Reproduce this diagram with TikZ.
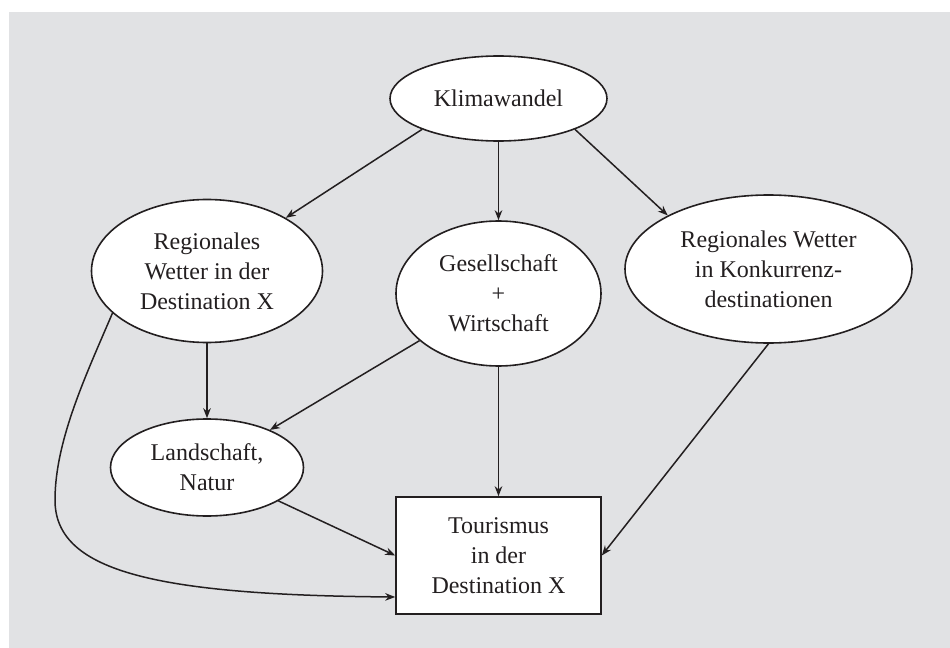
\documentclass[tikz,border=0pt]{standalone}
\usepackage{fontspec}
\setmainfont{Liberation Serif}
\usetikzlibrary{arrows.meta,shapes.geometric}
\definecolor{bggray}{HTML}{E1E2E4}
\definecolor{ink}{HTML}{231F20}
\tikzset{
  ell/.style={ellipse, draw=ink, fill=white, line width=0.8pt, inner sep=0pt, align=center,
    text=ink, font=\fontsize{12pt}{15pt}\selectfont},
  tbox/.style={rectangle, draw=ink, fill=white, line width=0.8pt, inner sep=0pt, align=center,
    text=ink, font=\fontsize{12pt}{15pt}\selectfont, minimum width=102.5pt, minimum height=58.5pt},
  arr/.style={draw=ink, line width=0.75pt, -{Stealth[length=5pt,width=3.8pt]}}
}
\begin{document}
\begin{tikzpicture}[x=0.5pt,y=-0.5pt]
  \useasboundingbox (0,0) rectangle (950,648);
  \fill[bggray] (9,12) rectangle (950,648);
  % nodes
  \node[ell, minimum width=108.5pt, minimum height=42.5pt] (klima) at (498.5,98.5) {Klimawandel};
  \node[ell, minimum width=115.5pt, minimum height=71.5pt] (regX) at (207,271) {Regionales\\Wetter in der\\Destination X};
  \node[ell, minimum width=102.5pt, minimum height=72.5pt] (gesell) at (498.5,293.5) {Gesellschaft\\+\\Wirtschaft};
  \node[ell, minimum width=143.5pt, minimum height=74pt] (konk) at (768.5,269) {Regionales Wetter\\in Konkurrenz-\\destinationen};
  \node[ell, minimum width=96.5pt, minimum height=48.5pt] (land) at (207,467.5) {Landschaft,\\Natur};
  \node[tbox] (tour) at (498.5,555.5) {Tourismus\\in der\\Destination X};
  \coordinate (bend) at (55,500);
  % arrows
  \draw[arr] (klima.202) -- (regX.34);
  \draw[arr] (klima) -- (gesell);
  \draw[arr] (klima.338) -- (konk.152);
  \draw[arr] (regX) -- (land);
  \draw[arr] (gesell) -- (land);
  \draw[arr] (gesell) -- (tour);
  \draw[arr] (land) -- (tour.west);
  \draw[arr] (konk.south) -- (tour.east);
  \draw[arr] (regX.204) .. controls (87,373) and (55,440) .. (bend)
    .. controls (55,570) and (150,595) .. ([yshift=-20.75pt]tour.west);
\end{tikzpicture}
\end{document}
